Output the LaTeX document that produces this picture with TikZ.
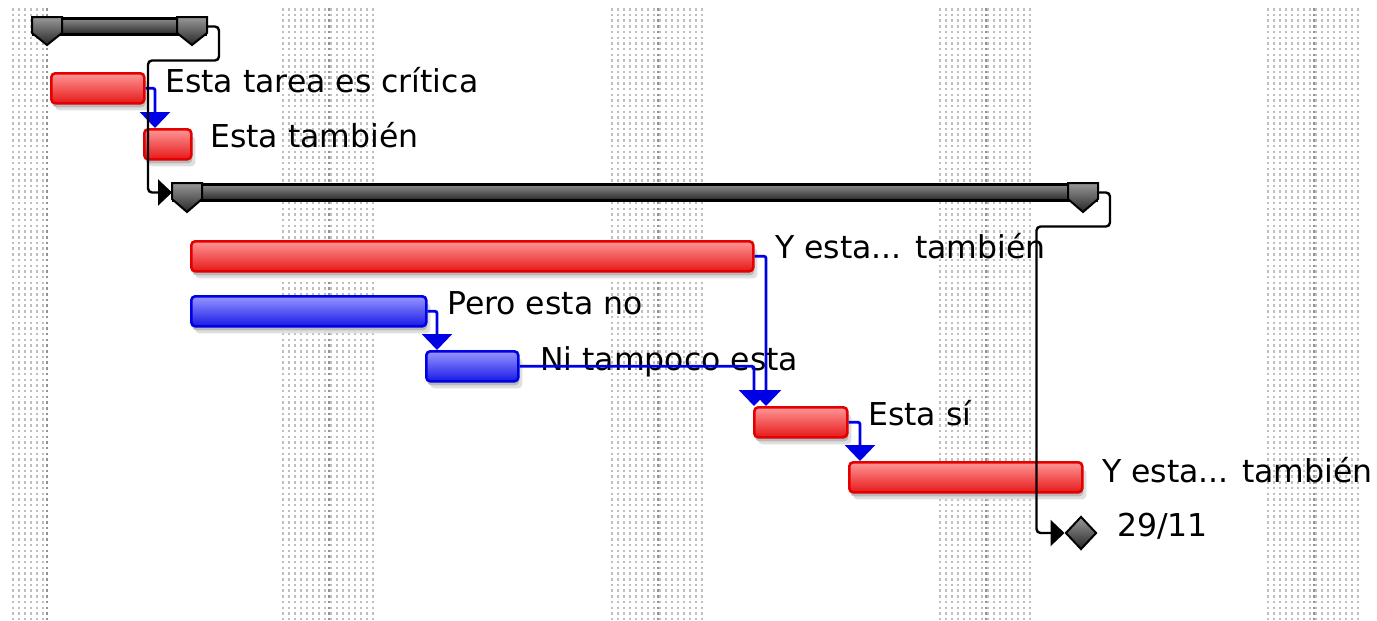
\documentclass[tikz,border=0pt]{standalone}
\usepackage{fontspec}
\setmainfont{DejaVu Sans}
\usepackage{xcolor}
\usepackage{tikz}
\usetikzlibrary{shapes,arrows.meta,positioning,shadows}
\definecolor{critred}{RGB}{228,0,0}
\definecolor{critlight}{RGB}{255,150,150}
\definecolor{normblue}{RGB}{0,0,228}
\definecolor{normlight}{RGB}{150,150,255}
\definecolor{linkblue}{RGB}{0,0,230}

\begin{document}
\begin{tikzpicture}[
    x=1pt, y=-1pt,
    dots/.style={draw=gray!50, line width=2.5pt, dash pattern=on 2.5pt off 3.2pt},
    midline/.style={draw=gray!85, line width=2.5pt, dash pattern=on 2.5pt off 3.2pt},
    bar/.style={rectangle, anchor=north west, inner sep=0pt, minimum height=30pt, line width=2.6pt, rounded corners=4pt,
        general shadow={shadow xshift=4pt, shadow yshift=-7pt, fill=gray!25},
        general shadow={shadow xshift=1pt, shadow yshift=-4pt, fill=gray!55}},
    crit/.style={bar, draw=critred, top color=critlight, bottom color=critred!90},
    norm/.style={bar, draw=normblue, top color=normlight, bottom color=normblue!90},
    summary/.style={rectangle, anchor=north west, inner sep=0pt, minimum height=16pt, draw=black, line width=3pt, top color=black!45, bottom color=black!85},
    sumcap/.style={draw=black, line width=2pt, top color=black!40, bottom color=black!85},
    milestone/.style={diamond, draw=black, line width=2pt, inner sep=0pt, minimum width=31pt, minimum height=33pt, top color=black!40, bottom color=black!85},
    lbl/.style={anchor=base west, inner sep=0pt, font=\fontsize{31.5}{36}\selectfont},
    blink/.style={draw=linkblue, line width=2.8pt, rounded corners=2pt, -{Triangle[width=30pt,length=16pt]}},
    slink/.style={draw=black, line width=2.4pt, rounded corners=4pt, -{Triangle[width=26pt,length=14pt]}}
]
    \useasboundingbox (0,0) rectangle (1377,621);
    \fill[white] (0,0) rectangle (1377,621);

    % weekends
    \foreach \c in {13,19,...,43} {
        \draw[dots] (\c,8) -- (\c,621);
    }
    \draw[midline] (47,8) -- (47,621);
    \foreach \x in {329,658,986,1314} {
        \foreach \c in {-46,-40,...,46} {
            \draw[dots] (\x+\c,8) -- (\x+\c,621);
        }
        \draw[midline] (\x,8) -- (\x,621);
    }

    % summaries
    \node[summary, minimum width=172pt] (sum1) at (32,17) {};
    \draw[sumcap] (sum1.north west) -- ++(30,0) -- ++(0,16) -- ++(-15,12) -- ++(-15,-12) -- cycle;
    \draw[sumcap] ([xshift=-30pt]sum1.north east) -- ++(30,0) -- ++(0,16) -- ++(-15,12) -- ++(-15,-12) -- cycle;
    \node[summary, minimum width=923pt] (sum2) at (172,183) {};
    \draw[sumcap] (sum2.north west) -- ++(30,0) -- ++(0,16) -- ++(-15,13) -- ++(-15,-13) -- cycle;
    \draw[sumcap] ([xshift=-30pt]sum2.north east) -- ++(30,0) -- ++(0,16) -- ++(-15,13) -- ++(-15,-13) -- cycle;

    % tasks
    \node[crit, minimum width=93pt] (crit1) at (50,72) {};
    \node[crit, minimum width=47pt] (crit2) at (143,128) {};
    \node[crit, minimum width=562pt] (crit3) at (190,240) {};
    \node[norm, minimum width=235pt] (norm1) at (190,295) {};
    \node[norm, minimum width=92pt] (norm2) at (425,350) {};
    \node[crit, minimum width=93pt] (crit4) at (753,406) {};
    \node[crit, minimum width=233pt] (crit5) at (848,461) {};
    \node[milestone] (fin) at (1081,533) {};

    % labels
    \node[lbl] (crit1l) at (165,92) {Esta tarea es crítica};
    \node[lbl] (crit2l) at (210,147) {Esta también};
    \node[lbl] (crit3l) at (775,258) {Y esta... también};
    \node[lbl] (norm1l) at (447,314) {Pero esta no};
    \node[lbl] (norm2l) at (540,370) {Ni tampoco esta};
    \node[lbl] (crit4l) at (868,425) {Esta sí};
    \node[lbl] (crit5l) at (1102,482) {Y esta... también};
    \node[lbl] (finl) at (1117,536) {29/11};

    % links
    \draw[blink] (crit1.east) -| ([xshift=12pt]crit2.north west);
    \draw[blink] (norm1.east) -| ([xshift=12pt]norm2.north west);
    \draw[blink] (norm2.east) -| ([xshift=1pt]crit4.north west);
    \draw[blink] (crit3.east) -| ([xshift=13pt]crit4.north west);
    \draw[blink] (crit4.east) -| ([xshift=12pt]crit5.north west);
    \draw[slink] (sum1.east) -- ++(12,0) -- ++(0,34) -| ([xshift=-24pt]sum2.west) -- (sum2.west);
    \draw[slink] (sum2.east) -- ++(12,0) -- ++(0,34) -| ([xshift=-28pt]fin.west) -- (fin.west);
\end{tikzpicture}
\end{document}
